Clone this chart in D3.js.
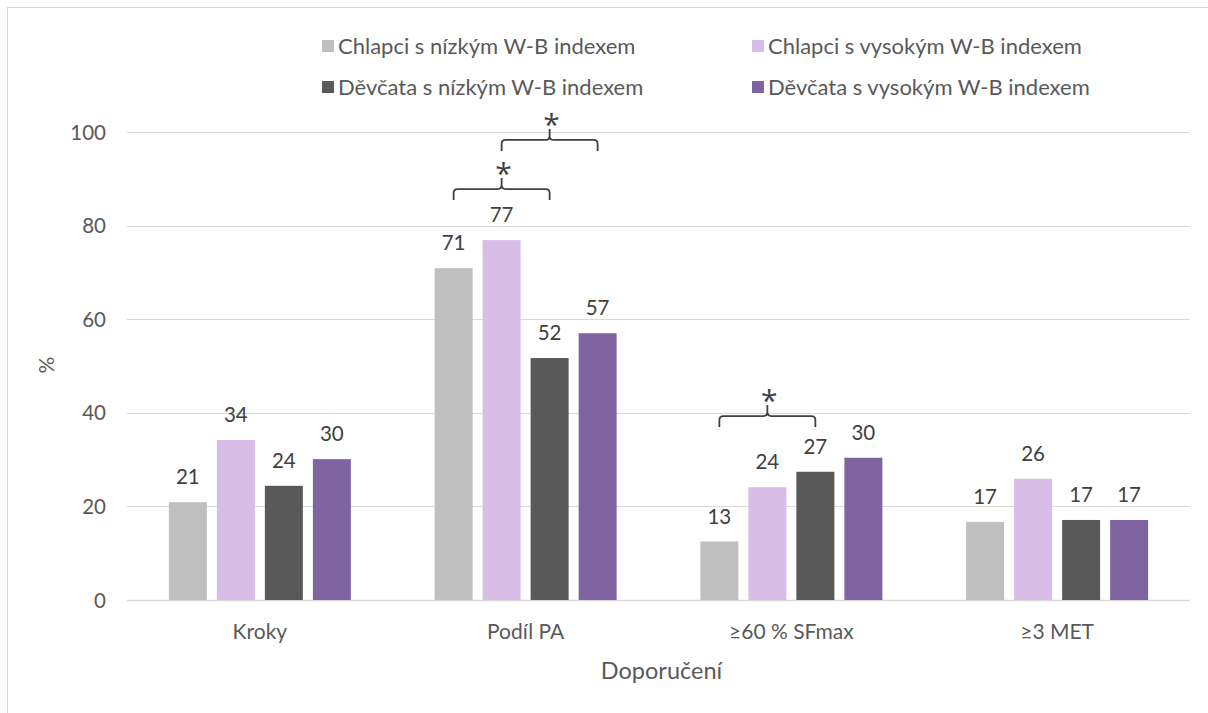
<!DOCTYPE html>
<html>
<head>
<meta charset="utf-8">
<script src="https://cdn.jsdelivr.net/npm/d3@7"></script>
<style>
  body { margin: 0; background: #fff; }
  text { font-family: Lato, "Open Sans", sans-serif; }
</style>
</head>
<body>
<script>
// data
let categories = ["Kroky", "Podíl PA", "≥60 % SFmax", "≥3 MET"];
let seriesNames = ["Chlapci s nízkým W-B indexem", "Chlapci s vysokým W-B indexem",
                   "Děvčata s nízkým W-B indexem", "Děvčata s vysokým W-B indexem"];
// one array per category, each holds the 4 series in the order of seriesNames
let kroky    = [20.9, 34.2, 24.4, 30.1];
let podilPA  = [70.9, 76.9, 51.7, 57.0];
let sf60     = [12.5, 24.1, 27.4, 30.4];
let met3     = [16.7, 25.9, 17.1, 17.1];
let byCategory = [kroky, podilPA, sf60, met3];
let colors = ["#BFBFBF", "#D7BDE8", "#595959", "#8064A2"];
let yTicks = [0, 20, 40, 60, 80, 100];
// significance brackets: category, first bar, last bar, level (in %)
let brackets = [
  {cat: "Podíl PA", from: 0, to: 2, level: 87.8},
  {cat: "Podíl PA", from: 1, to: 3, level: 98.3},
  {cat: "≥60 % SFmax", from: 0, to: 2, level: 39.3}
];

const width = 1208, height = 713;
const svg = d3.select("body").append("svg")
  .attr("width", width).attr("height", height);

// chart frame
svg.append("rect")
  .attr("x", 7.5).attr("y", 7.5)
  .attr("width", 1220).attr("height", 730)
  .attr("fill", "none").attr("stroke", "#D9D9D9");

const margin = {left: 127, right: 18, top: 132, bottom: 113};
const x = d3.scaleBand().domain(categories)
  .range([margin.left, width - margin.right]);
const y = d3.scaleLinear().domain([0, 100])
  .range([height - margin.bottom, margin.top]);
const barW = 38, gap = 10;
const xs = d3.scaleBand().domain(d3.range(4))
  .range([0, 4 * barW + 3 * gap]).paddingInner(gap / (barW + gap));
const groupOff = (x.bandwidth() - (4 * barW + 3 * gap)) / 2;

// gridlines
svg.append("g")
  .selectAll("line").data(yTicks).enter().append("line")
  .attr("x1", margin.left).attr("x2", width - margin.right)
  .attr("y1", d => Math.round(y(d)) + 0.5).attr("y2", d => Math.round(y(d)) + 0.5)
  .attr("stroke", "#D9D9D9").attr("stroke-width", d => d == 0 ? 1.5 : 1);

// y axis
const yAxis = svg.append("g")
  .attr("transform", `translate(${margin.left - 21},0)`)
  .call(d3.axisLeft(y).tickValues(yTicks).tickSize(0).tickPadding(0));
yAxis.select(".domain").remove();
yAxis.selectAll("text").attr("font-size", 20.5).attr("fill", "#595959")
  .style("font-family", "Lato, sans-serif").attr("dy", "0.35em");

// x axis
const xAxis = svg.append("g")
  .attr("transform", `translate(0,${height - margin.bottom})`)
  .call(d3.axisBottom(x).tickSize(0).tickPadding(24));
xAxis.select(".domain").remove();
xAxis.selectAll("text").attr("font-size", 21).attr("fill", "#595959")
  .style("font-family", "Lato, sans-serif");

// axis titles
svg.append("text")
  .attr("x", (margin.left + width - margin.right) / 2 + 3).attr("y", 679)
  .attr("text-anchor", "middle").attr("font-size", 23.5).attr("fill", "#595959")
  .text("Doporučení");
svg.append("text")
  .attr("transform", "translate(54,365) rotate(-90)")
  .attr("text-anchor", "middle").attr("font-size", 21).attr("fill", "#595959")
  .text("%");

// bars
const groups = svg.append("g").selectAll("g")
  .data(categories).enter().append("g")
  .attr("transform", (d, i) => `translate(${x(d) + groupOff},0)`);

groups.selectAll("rect")
  .data((d, i) => byCategory[i].map((v, s) => ({s: s, v: v})))
  .enter().append("rect")
  .attr("x", d => xs(d.s))
  .attr("width", xs.bandwidth())
  .attr("y", d => y(d.v))
  .attr("height", d => y(0) - y(d.v))
  .attr("fill", d => colors[d.s]);

groups.selectAll("text")
  .data((d, i) => byCategory[i].map((v, s) => ({s: s, v: v})))
  .enter().append("text")
  .attr("x", d => xs(d.s) + xs.bandwidth() / 2)
  .attr("y", d => y(d.v) - 18)
  .attr("text-anchor", "middle")
  .attr("font-size", 20.5).attr("fill", "#404040")
  .text(d => Math.round(d.v));

// significance brackets
const bc = (cat, s) => x(cat) + groupOff + xs(s) + xs.bandwidth() / 2;
brackets.forEach(b => {
  const x1 = bc(b.cat, b.from), x2 = bc(b.cat, b.to), yy = y(b.level);
  const xm = (x1 + x2) / 2, r = 4;
  const p = d3.path();
  p.moveTo(x1, yy + 11);
  p.lineTo(x1, yy + r);
  p.quadraticCurveTo(x1, yy, x1 + r, yy);
  p.lineTo(xm - r, yy);
  p.quadraticCurveTo(xm, yy, xm, yy - r);
  p.lineTo(xm, yy - 11);
  p.moveTo(xm, yy - r);
  p.quadraticCurveTo(xm, yy, xm + r, yy);
  p.lineTo(x2 - r, yy);
  p.quadraticCurveTo(x2, yy, x2, yy + r);
  p.lineTo(x2, yy + 11);
  svg.append("path").attr("d", p.toString())
    .attr("fill", "none").attr("stroke", "#404040").attr("stroke-width", 1.8);
  svg.append("text")
    .attr("x", xm + 2).attr("y", yy - 5)
    .attr("text-anchor", "middle").attr("font-size", 30).attr("fill", "#404040")
    .style("font-family", "'Open Sans', sans-serif")
    .text("*");
});

// legend
const legendPos = [[322, 46], [752, 46], [322, 87], [752, 87]];
const legend = svg.append("g").selectAll("g")
  .data(seriesNames).enter().append("g")
  .attr("transform", (d, i) => `translate(${legendPos[i][0]},${legendPos[i][1]})`);
legend.append("rect")
  .attr("x", 0).attr("y", -6).attr("width", 12).attr("height", 12)
  .attr("fill", (d, i) => colors[i]);
legend.append("text")
  .attr("x", 16).attr("y", 0).attr("dy", "0.35em")
  .attr("font-size", 22).attr("fill", "#595959")
  .text(d => d);
</script>
</body>
</html>
